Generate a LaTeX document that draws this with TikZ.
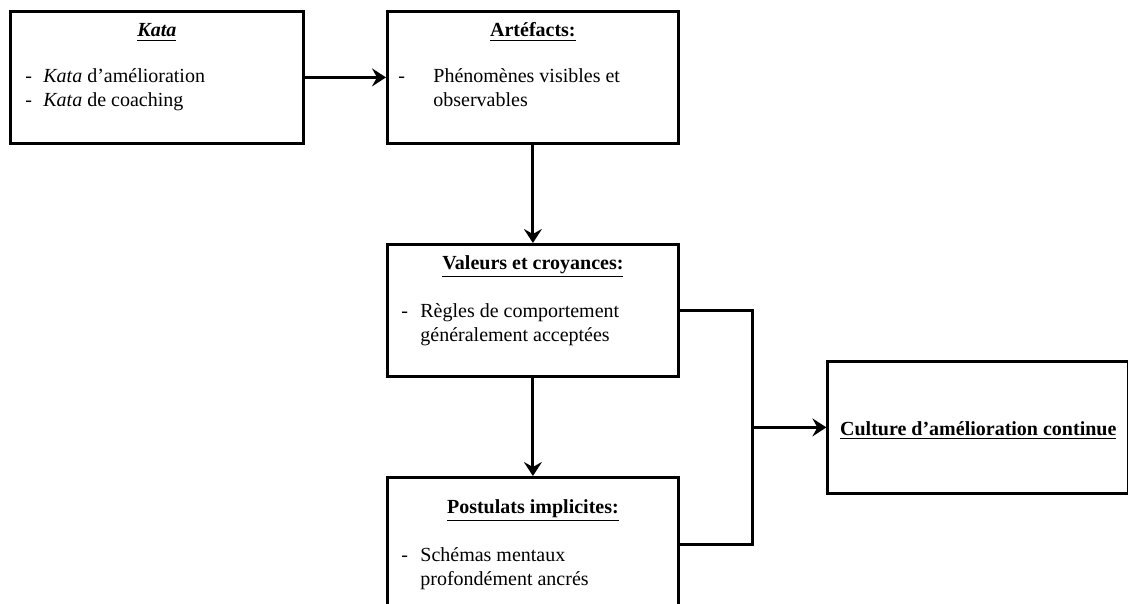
\documentclass[tikz,border=0pt]{standalone}
\usepackage{fontspec}
\setmainfont{Liberation Serif}
\usetikzlibrary{arrows.meta,positioning,calc}

\newcommand{\puces}[2]{\begin{tabular}[t]{@{}p{#1}@{}l@{}}#2\end{tabular}}

\begin{document}
\begin{tikzpicture}[
  font=\fontsize{10}{12}\selectfont,
  cadre/.style={draw, line width=1.4pt, minimum width=145.5pt, minimum height=66pt, inner sep=0pt},
  titre/.style={anchor=base, inner sep=0pt, font=\fontsize{10}{12}\selectfont\bfseries},
  liste/.style={anchor=base west, inner sep=0pt},
  fleche/.style={->, line width=1.5pt},
  >={Stealth[length=7pt,width=9pt,inset=2.5pt]}
]
\useasboundingbox (0,0) rectangle (564pt,-302pt);

% boites
\node[cadre, minimum width=146.5pt, anchor=north west] (kata) at (4.5pt,-5pt) {};
\node[cadre, right=40.6pt of kata] (artef) {};
\node[cadre, below=49.1pt of artef] (valeurs) {};
\node[cadre, minimum height=67pt, below=49.1pt of valeurs] (postul) {};
\coordinate (jonction) at ($(valeurs.east)!0.5!(postul.east)+(36.5pt,0)$);
\node[cadre, minimum width=150.5pt, right=36.8pt of jonction] (culture) {};

% textes
\node[titre] (kataT) at ([yshift=-13.5pt]kata.north) {\underline{\textit{Kata}}};
\node[liste] (kataL) at ([xshift=8pt,yshift=-36.5pt]kata.north west)
  {\puces{9pt}{- & \textit{Kata} d'amélioration\\ - & \textit{Kata} de coaching}};

\node[titre] (artefT) at ([yshift=-13.5pt]artef.north) {\underline{Artéfacts:}};
\node[liste] (artefL) at ([xshift=6pt,yshift=-36.5pt]artef.north west)
  {\puces{17.5pt}{- & Phénomènes visibles et\\ & observables}};

\node[titre] (valeursT) at ([yshift=-13pt]valeurs.north) {\underline{Valeurs et croyances:}};
\node[liste] (valeursL) at ([xshift=7.5pt,yshift=-37pt]valeurs.north west)
  {\puces{9.5pt}{- & Règles de comportement\\ & généralement acceptées}};

\node[titre] (postulT) at ([yshift=-18.5pt]postul.north) {\underline{Postulats implicites:}};
\node[liste] (postulL) at ([xshift=7.5pt,yshift=-42.5pt]postul.north west)
  {\puces{9.5pt}{- & Schémas mentaux\\ & profondément ancrés}};

\node[titre] (cultureT) at ([yshift=-4pt]culture.center) {\underline{Culture d'amélioration continue}};

% liaisons
\draw[fleche] (kata) -- (artef);
\draw[fleche] (artef) -- (valeurs);
\draw[fleche] (valeurs) -- (postul);
\draw[line width=1.5pt] (valeurs.east) -| (jonction) |- (postul.east);
\draw[fleche] (jonction) -- (culture);

\end{tikzpicture}
\end{document}
